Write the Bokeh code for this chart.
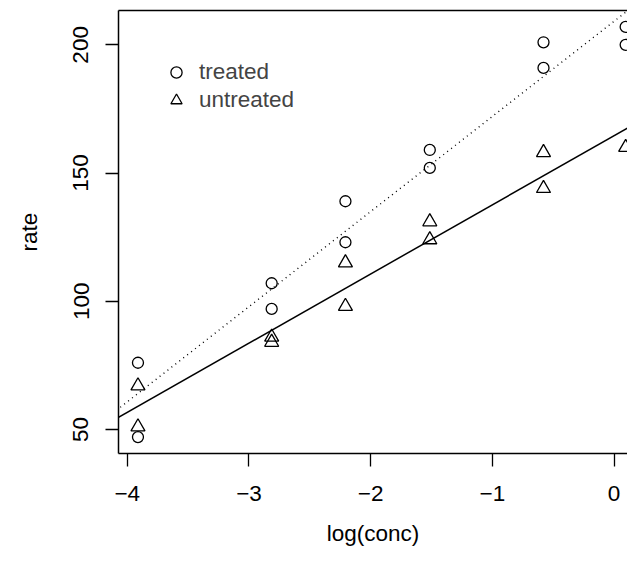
import numpy as np
from bokeh.plotting import figure
from bokeh.models import Range1d, FixedTicker, LinearAxis, Slope, Legend, LegendItem
from bokeh.embed import file_html
from bokeh.resources import INLINE

# Puromycin data
treated_conc = [0.02, 0.02, 0.06, 0.06, 0.11, 0.11, 0.22, 0.22, 0.56, 0.56, 1.10, 1.10]
treated_rate = [76, 47, 97, 107, 123, 139, 159, 152, 191, 201, 207, 200]
untreated_conc = [0.02, 0.02, 0.06, 0.06, 0.11, 0.11, 0.22, 0.22, 0.56, 0.56, 1.10]
untreated_rate = [67, 51, 84, 86, 98, 115, 131, 124, 144, 158, 160]
x_ticks = [-4, -3, -2, -1, 0]
y_ticks = [50, 100, 150, 200]
x_label = "log(conc)"
y_label = "rate"

FONT = "Liberation Sans"
FS = "22.5px"

tx = np.log(treated_conc)
ux = np.log(untreated_conc)

W, H = 627, 549
LEFT, TOP, BOTTOM_FRAME = 118, 10, 453

p = figure(width=W, height=H, output_backend="svg", toolbar_location=None,
           x_range=Range1d(-4.072, 0.1104), y_range=Range1d(40.6, 213.4),
           min_border_left=LEFT, min_border_top=TOP, min_border_right=0,
           min_border_bottom=H - BOTTOM_FRAME,
           x_axis_label=x_label, y_axis_label=y_label)
p.outline_line_color = None
p.grid.visible = False
p.background_fill_color = "white"
p.border_fill_color = "white"

for ax in (p.xaxis[0], p.yaxis[0]):
    ax.axis_line_color = "black"
    ax.axis_line_width = 1.5
    ax.major_tick_line_width = 1.3
    ax.major_tick_in = 0
    ax.major_tick_out = 13
    ax.minor_tick_line_color = None
    ax.major_label_text_font = FONT
    ax.major_label_text_font_size = FS
    ax.major_label_text_color = "black"
    ax.axis_label_text_font = FONT
    ax.axis_label_text_font_size = FS
    ax.axis_label_text_font_style = "normal"
    ax.axis_label_text_color = "black"

p.xaxis[0].ticker = FixedTicker(ticks=x_ticks)
p.yaxis[0].ticker = FixedTicker(ticks=y_ticks)
p.yaxis[0].major_label_orientation = "vertical"
p.xaxis[0].major_label_standoff = 19
p.xaxis[0].axis_label_standoff = 17
p.yaxis[0].major_label_standoff = 17
p.yaxis[0].axis_label_standoff = 29

top = LinearAxis(ticker=FixedTicker(ticks=[]), major_label_text_font_size="0px",
                 axis_line_color="black", axis_line_width=1.5,
                 major_tick_out=0, major_tick_in=0, major_label_standoff=0,
                 major_tick_line_color=None, minor_tick_line_color=None)
p.add_layout(top, "above")

r_t = p.scatter(tx, treated_rate, marker="circle", size=11, fill_color=None,
                line_color="black", line_width=1.3)
r_u = p.scatter(ux, untreated_rate, marker="triangle", size=14, fill_color=None,
                line_color="black", line_width=1.3)

mt, bt = np.polyfit(tx, treated_rate, 1)
mu, bu = np.polyfit(ux, untreated_rate, 1)
p.add_layout(Slope(gradient=mt, y_intercept=bt, line_color="black", line_width=1.4, line_dash="1 4"))
p.add_layout(Slope(gradient=mu, y_intercept=bu, line_color="black", line_width=1.5))

legend = Legend(items=[LegendItem(label="treated", renderers=[r_t]),
                       LegendItem(label="untreated", renderers=[r_u])],
                location=(44, 339), padding=0, margin=0, spacing=-1,
                glyph_width=28, glyph_height=28, label_standoff=9,
                label_text_font=FONT, label_text_font_size=FS,
                border_line_color=None, background_fill_alpha=0)
p.add_layout(legend)

open("out.html", "w").write(file_html(p, INLINE))
